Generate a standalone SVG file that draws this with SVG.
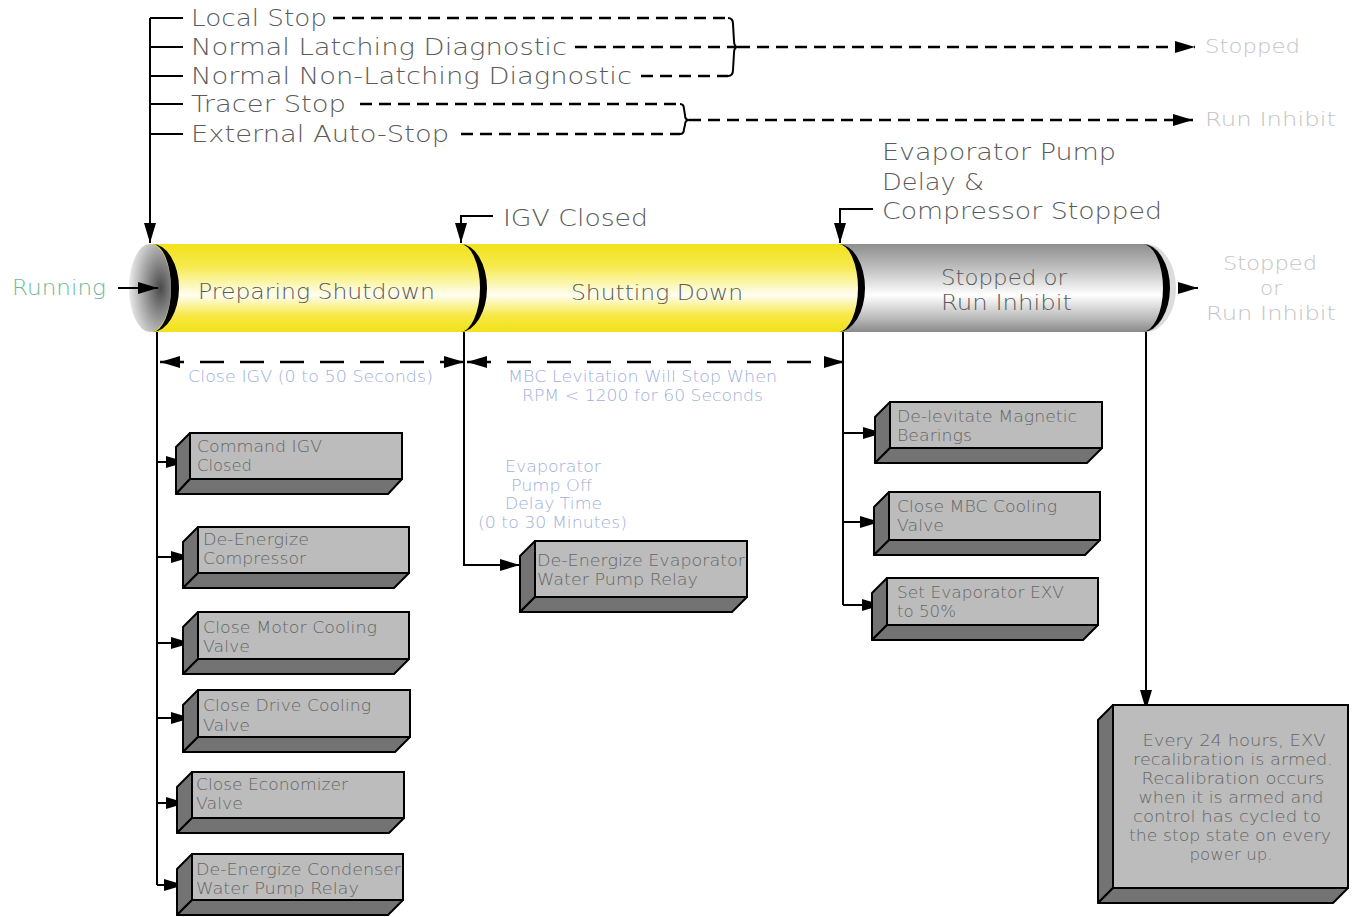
<svg xmlns="http://www.w3.org/2000/svg" width="1354" height="917" viewBox="0 0 1354 917">
<style>
text{font-family:"DejaVu Sans","Liberation Sans",sans-serif;font-weight:200}
.lst{font-size:23px;fill:#5a5a5a}
.cyl{font-size:21px;fill:#5a5a5a}
.big{font-size:23px;fill:#5a5a5a}
.res{font-size:20px;fill:#c4c4c4}
.dim{font-size:15.5px;fill:#9fb0dc}
.bx{font-size:15.5px;fill:#666}
.ln{fill:none;stroke:#000;stroke-width:2}
.dash{fill:none;stroke:#000;stroke-width:2.5;stroke-dasharray:12 7}
.dimd{fill:none;stroke:#000;stroke-width:2.5;stroke-dasharray:24 16}
.front{fill:#bcbcbc;stroke:#000;stroke-width:2}
.side{fill:#737373;stroke:#000;stroke-width:2;stroke-linejoin:round}
.cres{fill:#000}
</style>
<defs>
<marker id="ah" viewBox="0 0 20 12" refX="20" refY="6" markerWidth="20" markerHeight="12" markerUnits="userSpaceOnUse" orient="auto-start-reverse"><path d="M0,0 L20,6 L0,12 z" fill="#000"/></marker>
<linearGradient id="yg" x1="0" y1="0" x2="0" y2="1">
<stop offset="0" stop-color="#f2e21c"/><stop offset="0.25" stop-color="#f6ea4c"/><stop offset="0.58" stop-color="#fffef2"/><stop offset="0.82" stop-color="#f6e842"/><stop offset="1" stop-color="#f2e11a"/>
</linearGradient>
<linearGradient id="gg" x1="0" y1="0" x2="0" y2="1">
<stop offset="0" stop-color="#8e8e8e"/><stop offset="0.3" stop-color="#c4c4c4"/><stop offset="0.58" stop-color="#ffffff"/><stop offset="0.85" stop-color="#b8b8b8"/><stop offset="1" stop-color="#8a8a8a"/>
</linearGradient>
<radialGradient id="cg" cx="0.75" cy="0.5" r="0.8">
<stop offset="0" stop-color="#4a4a4a"/><stop offset="0.6" stop-color="#b0b0b0"/><stop offset="1" stop-color="#f4f4f4"/>
</radialGradient>
</defs>

<!-- cylinder -->
<g id="cylinder">
<rect x="840" y="244" width="306" height="88" fill="url(#gg)"/>
<path d="M1146,244 A30 44 0 0 1 1146,332 Z" fill="#dcdcdc"/>
<path d="M1144,244 A26 44 0 0 1 1144,332 Z" fill="url(#gg)"/>
<path d="M1142,244 A28 44 0 0 1 1142,332 A21 44 0 0 0 1142,244 Z" class="cres"/>
<rect x="152" y="244" width="688" height="88" fill="url(#yg)"/>
<path d="M838,244 A26 44 0 0 1 838,332 Z" fill="url(#yg)"/>
<ellipse cx="150" cy="288" rx="21" ry="44" fill="url(#cg)"/>
<path d="M152,244 A27 44 0 0 1 152,332 A19 44 0 0 0 152,244 Z" class="cres"/>
<path d="M460,244 A27 44 0 0 1 460,332 A20 44 0 0 0 460,244 Z" class="cres"/>
<path d="M838,244 A27 44 0 0 1 838,332 A20 44 0 0 0 838,244 Z" class="cres"/>
<text class="cyl" x="198" y="299" textLength="237" lengthAdjust="spacingAndGlyphs">Preparing Shutdown</text>
<text class="cyl" x="571" y="300" textLength="172" lengthAdjust="spacingAndGlyphs">Shutting Down</text>
<text class="cyl" x="941" y="285" textLength="126" lengthAdjust="spacingAndGlyphs">Stopped or</text>
<text class="cyl" x="941" y="310" textLength="131" lengthAdjust="spacingAndGlyphs">Run Inhibit</text>
</g>

<!-- labels -->
<g id="stop-sources">
<text class="lst" x="191" y="26" textLength="136" lengthAdjust="spacingAndGlyphs">Local Stop</text>
<text class="lst" x="191" y="55" textLength="376" lengthAdjust="spacingAndGlyphs">Normal Latching Diagnostic</text>
<text class="lst" x="191" y="84" textLength="441" lengthAdjust="spacingAndGlyphs">Normal Non-Latching Diagnostic</text>
<text class="lst" x="191" y="112" textLength="155" lengthAdjust="spacingAndGlyphs">Tracer Stop</text>
<text class="lst" x="191" y="142" textLength="258" lengthAdjust="spacingAndGlyphs">External Auto-Stop</text>
</g>
<g id="results">
<text class="res" x="1205" y="53" textLength="95" lengthAdjust="spacingAndGlyphs">Stopped</text>
<text class="res" x="1205" y="126" textLength="131" lengthAdjust="spacingAndGlyphs">Run Inhibit</text>
<text class="res" x="1223" y="270" textLength="94" lengthAdjust="spacingAndGlyphs">Stopped</text>
<text class="res" x="1260" y="295" textLength="22" lengthAdjust="spacingAndGlyphs">or</text>
<text class="res" x="1206" y="320" textLength="130" lengthAdjust="spacingAndGlyphs">Run Inhibit</text>
<text x="12" y="295" style="font-size:21px;fill:#6fb894" textLength="94" lengthAdjust="spacingAndGlyphs">Running</text>
</g>
<g id="events">
<text class="big" x="503" y="226" textLength="145" lengthAdjust="spacingAndGlyphs">IGV Closed</text>
<text class="big" x="882" y="160" textLength="234" lengthAdjust="spacingAndGlyphs">Evaporator Pump</text>
<text class="big" x="882" y="190" textLength="102" lengthAdjust="spacingAndGlyphs">Delay &amp;</text>
<text class="big" x="882" y="219" textLength="280" lengthAdjust="spacingAndGlyphs">Compressor Stopped</text>
</g>
<g id="dim-labels">
<text class="dim" x="188" y="382" textLength="245" lengthAdjust="spacingAndGlyphs">Close IGV (0 to 50 Seconds)</text>
<text class="dim" x="508" y="382" textLength="269" lengthAdjust="spacingAndGlyphs">MBC Levitation Will Stop When</text>
<text class="dim" x="522" y="401" textLength="241" lengthAdjust="spacingAndGlyphs">RPM &lt; 1200 for 60 Seconds</text>
<text class="dim" x="505" y="472" textLength="96" lengthAdjust="spacingAndGlyphs">Evaporator</text>
<text class="dim" x="511" y="491" textLength="81" lengthAdjust="spacingAndGlyphs">Pump Off</text>
<text class="dim" x="505" y="509" textLength="97" lengthAdjust="spacingAndGlyphs">Delay Time</text>
<text class="dim" x="478" y="528" textLength="149" lengthAdjust="spacingAndGlyphs">(0 to 30 Minutes)</text>
</g>

<!-- connectors -->
<g id="connectors">
<path class="ln" d="M150,18 V243" marker-end="url(#ah)"/>
<path class="ln" d="M150,18 H183 M150,47 H183 M150,76 H183 M150,104 H183 M150,134 H183"/>
<path class="dash" d="M333,18 H728 M575,47 H735 M641,76 H728"/>
<path class="ln" d="M728,18 Q733,18 733,24 L734,41 Q734,47 738,47 Q734,47 734,53 L733,70 Q733,76 728,76"/>
<path class="dash" d="M738,47 H1195" marker-end="url(#ah)"/>
<path class="dash" d="M360,104 H680 M461,134 H680"/>
<path class="ln" d="M680,104 Q684,104 684,109 L685,115 Q685,120 689,120 Q685,120 685,125 L684,129 Q684,134 680,134"/>
<path class="dash" d="M689,120 H1193" marker-end="url(#ah)"/>
<path class="ln" d="M118,288 H158" marker-end="url(#ah)"/>
<path class="ln" d="M493,216 H461 V243" marker-end="url(#ah)"/>
<path class="ln" d="M873,209 H840 V243" marker-end="url(#ah)"/>
<path class="ln" d="M1178,288 H1198" marker-end="url(#ah)"/>
<path class="dimd" d="M160,362 H464" marker-start="url(#ah)" marker-end="url(#ah)"/>
<path class="dimd" d="M467,362 H844" marker-start="url(#ah)" marker-end="url(#ah)"/>
<path class="ln" d="M157,332 V885"/>
<path class="ln" d="M157,462 H186" marker-end="url(#ah)"/>
<path class="ln" d="M157,557 H191" marker-end="url(#ah)"/>
<path class="ln" d="M157,643 H191" marker-end="url(#ah)"/>
<path class="ln" d="M157,718 H191" marker-end="url(#ah)"/>
<path class="ln" d="M157,803 H186" marker-end="url(#ah)"/>
<path class="ln" d="M157,885 H184" marker-end="url(#ah)"/>
<path class="ln" d="M464,332 V565 H520" marker-end="url(#ah)"/>
<path class="ln" d="M843,332 V605"/>
<path class="ln" d="M843,433 H883" marker-end="url(#ah)"/>
<path class="ln" d="M843,522 H880" marker-end="url(#ah)"/>
<path class="ln" d="M843,605 H882" marker-end="url(#ah)"/>
<path class="ln" d="M1146,332 V710" marker-end="url(#ah)"/>
</g>

<!-- boxes -->
<g id="box-command-igv">
<polygon class="side" points="190,433 176,447 176,494 190,479"/>
<polygon class="side" points="190,479 402,479 388,494 176,494"/>
<rect class="front" x="190" y="433" width="212" height="46"/>
<text class="bx" x="197" y="452" textLength="125" lengthAdjust="spacingAndGlyphs">Command IGV</text><text class="bx" x="197" y="471" textLength="55" lengthAdjust="spacingAndGlyphs">Closed</text>
</g>
<g id="box-deenergize-compressor">
<polygon class="side" points="198,527 183,542 183,588 198,573"/>
<polygon class="side" points="198,573 409,573 394,588 183,588"/>
<rect class="front" x="198" y="527" width="211" height="46"/>
<text class="bx" x="203" y="545" textLength="106" lengthAdjust="spacingAndGlyphs">De-Energize</text><text class="bx" x="203" y="564" textLength="103" lengthAdjust="spacingAndGlyphs">Compressor</text>
</g>
<g id="box-motor-cooling">
<polygon class="side" points="198,612 183,627 183,674 198,659"/>
<polygon class="side" points="198,659 409,659 394,674 183,674"/>
<rect class="front" x="198" y="612" width="211" height="47"/>
<text class="bx" x="203" y="633" textLength="174" lengthAdjust="spacingAndGlyphs">Close Motor Cooling</text><text class="bx" x="203" y="652" textLength="47" lengthAdjust="spacingAndGlyphs">Valve</text>
</g>
<g id="box-drive-cooling">
<polygon class="side" points="198,690 183,705 183,752 198,737"/>
<polygon class="side" points="198,737 410,737 395,752 183,752"/>
<rect class="front" x="198" y="690" width="212" height="47"/>
<text class="bx" x="203" y="711" textLength="168" lengthAdjust="spacingAndGlyphs">Close Drive Cooling</text><text class="bx" x="203" y="731" textLength="47" lengthAdjust="spacingAndGlyphs">Valve</text>
</g>
<g id="box-economizer">
<polygon class="side" points="192,772 177,787 177,833 192,818"/>
<polygon class="side" points="192,818 404,818 389,833 177,833"/>
<rect class="front" x="192" y="772" width="212" height="46"/>
<text class="bx" x="196" y="790" textLength="152" lengthAdjust="spacingAndGlyphs">Close Economizer</text><text class="bx" x="196" y="809" textLength="47" lengthAdjust="spacingAndGlyphs">Valve</text>
</g>
<g id="box-condenser-pump">
<polygon class="side" points="192,854 177,869 177,915 192,900"/>
<polygon class="side" points="192,900 403,900 388,915 177,915"/>
<rect class="front" x="192" y="854" width="211" height="46"/>
<text class="bx" x="196" y="875" textLength="205" lengthAdjust="spacingAndGlyphs">De-Energize Condenser</text><text class="bx" x="196" y="894" textLength="163" lengthAdjust="spacingAndGlyphs">Water Pump Relay</text>
</g>
<g id="box-evap-pump">
<polygon class="side" points="535,541 520,556 520,612 535,597"/>
<polygon class="side" points="535,597 747,597 732,612 520,612"/>
<rect class="front" x="535" y="541" width="212" height="56"/>
<text class="bx" x="537" y="566" textLength="208" lengthAdjust="spacingAndGlyphs">De-Energize Evaporator</text><text class="bx" x="537" y="585" textLength="161" lengthAdjust="spacingAndGlyphs">Water Pump Relay</text>
</g>
<g id="box-delevitate">
<polygon class="side" points="890,402 875,417 875,463 890,448"/>
<polygon class="side" points="890,448 1102,448 1087,463 875,463"/>
<rect class="front" x="890" y="402" width="212" height="46"/>
<text class="bx" x="897" y="422" textLength="180" lengthAdjust="spacingAndGlyphs">De-levitate Magnetic</text><text class="bx" x="897" y="441" textLength="75" lengthAdjust="spacingAndGlyphs">Bearings</text>
</g>
<g id="box-mbc-cooling">
<polygon class="side" points="889,492 874,507 874,555 889,540"/>
<polygon class="side" points="889,540 1100,540 1085,555 874,555"/>
<rect class="front" x="889" y="492" width="211" height="48"/>
<text class="bx" x="897" y="512" textLength="160" lengthAdjust="spacingAndGlyphs">Close MBC Cooling</text><text class="bx" x="897" y="531" textLength="47" lengthAdjust="spacingAndGlyphs">Valve</text>
</g>
<g id="box-exv">
<polygon class="side" points="887,578 872,593 872,640 887,625"/>
<polygon class="side" points="887,625 1098,625 1083,640 872,640"/>
<rect class="front" x="887" y="578" width="211" height="47"/>
<text class="bx" x="897" y="598" textLength="167" lengthAdjust="spacingAndGlyphs">Set Evaporator EXV</text><text class="bx" x="897" y="617" textLength="59" lengthAdjust="spacingAndGlyphs">to 50%</text>
</g>
<g id="box-recalibration">
<polygon class="side" points="1113,705 1098,720 1098,903 1113,888"/>
<polygon class="side" points="1113,888 1348,888 1333,903 1098,903"/>
<rect class="front" x="1113" y="705" width="235" height="183"/>
<text class="bx" text-anchor="middle" x="1234" y="746" textLength="183" lengthAdjust="spacingAndGlyphs">Every 24 hours, EXV</text>
<text class="bx" text-anchor="middle" x="1233" y="765" textLength="200" lengthAdjust="spacingAndGlyphs">recalibration is armed.</text>
<text class="bx" text-anchor="middle" x="1233" y="784" textLength="183" lengthAdjust="spacingAndGlyphs">Recalibration occurs</text>
<text class="bx" text-anchor="middle" x="1231" y="803" textLength="185" lengthAdjust="spacingAndGlyphs">when it is armed and</text>
<text class="bx" text-anchor="middle" x="1227" y="822" textLength="188" lengthAdjust="spacingAndGlyphs">control has cycled to</text>
<text class="bx" text-anchor="middle" x="1230" y="841" textLength="202" lengthAdjust="spacingAndGlyphs">the stop state on every</text>
<text class="bx" text-anchor="middle" x="1231" y="860" textLength="83" lengthAdjust="spacingAndGlyphs">power up.</text>
</g>
</svg>
